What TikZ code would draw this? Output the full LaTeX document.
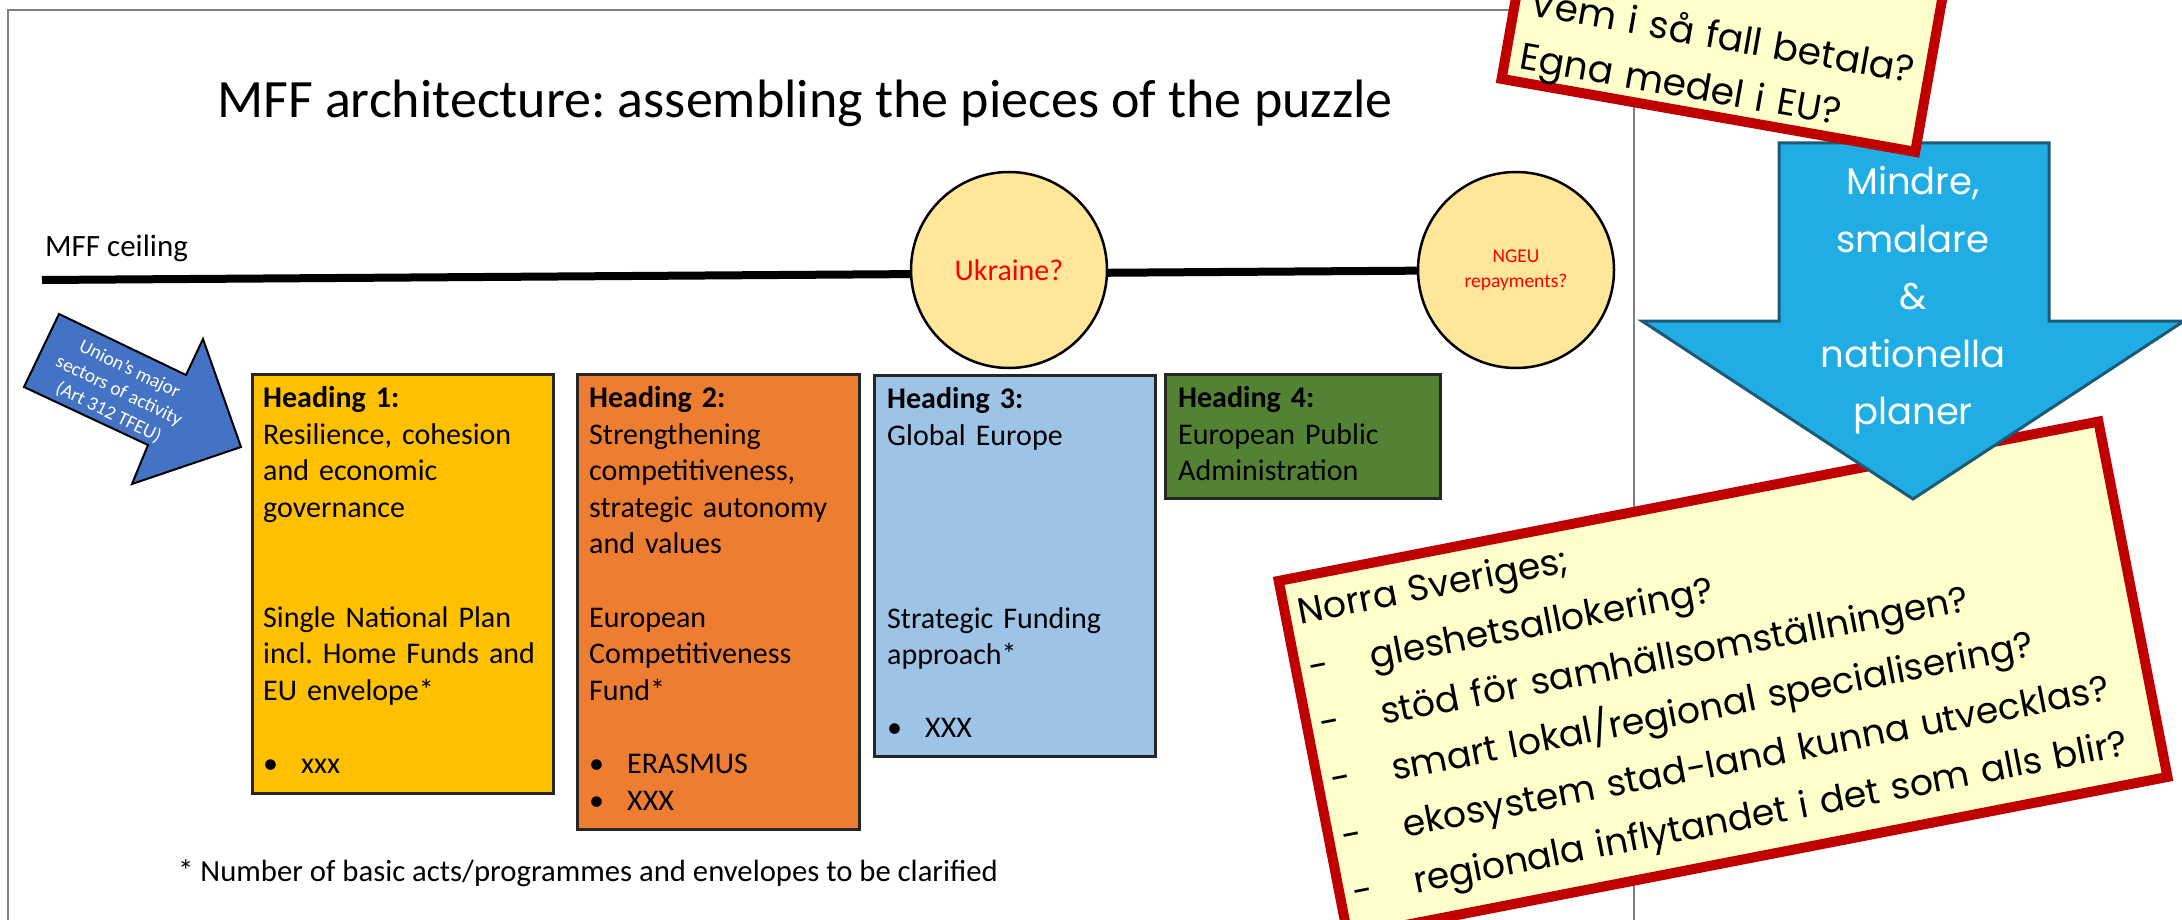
\documentclass[tikz,border=0pt]{standalone}
\usepackage{fontspec}
\setmainfont{Carlito}
\newfontfamily\swfont{Poppins}
\usetikzlibrary{backgrounds}
\definecolor{frameGray}{HTML}{7F7F7F}
\definecolor{hOne}{HTML}{FFC000}
\definecolor{hTwo}{HTML}{ED7D31}
\definecolor{hThree}{HTML}{9DC3E6}
\definecolor{hFour}{HTML}{548235}
\definecolor{moonFill}{HTML}{FFE699}
\definecolor{unionBlue}{HTML}{4472C4}
\definecolor{planBlue}{HTML}{1FADE4}
\definecolor{planEdge}{HTML}{1C5A75}
\definecolor{noteFill}{HTML}{FFFFCC}
\definecolor{noteRed}{HTML}{C00000}
\newcommand{\hbul}{\makebox[38pt][l]{\textbullet}}
\newcommand{\dashitem}{\makebox[62pt][l]{-}}
\frenchspacing

\begin{document}
\begin{tikzpicture}[x=1pt, y=-1pt,
  heading/.style={draw=black!85, line width=2.5pt, anchor=north west, inner sep=0pt},
  htext/.style={anchor=base west, inner sep=0pt, text width=280pt, align=left, font={\fontsize{30}{36.6}\selectfont}},
  puzzle/.style={circle, draw=black, line width=2.5pt, fill=moonFill, minimum size=196pt, inner sep=0pt, text=red, align=center},
  note/.style={draw=noteRed, line width=10pt, fill=noteFill, inner sep=0pt},
  notetext/.style={anchor=base west, inner sep=0pt, text width=950pt, align=left}]
\useasboundingbox (0,0) rectangle (2182,920);
\clip (0,0) rectangle (2182,920);

\draw[frameGray, line width=2pt] (8,930) -- (8,10) -- (1634,10) -- (1634,930);

\node[anchor=base, inner sep=0pt, font={\fontsize{54}{64}\selectfont}] (title) at (805,118) {MFF architecture: assembling the pieces of the puzzle};
\node[anchor=base west, inner sep=0pt, font={\fontsize{31}{38}\selectfont}] (ceilinglabel) at (45,257) {MFF ceiling};

\node[puzzle, font={\fontsize{30}{36}\selectfont}] (ukraine) at (1009,270) {Ukraine?};
\node[puzzle, font={\fontsize{19.5}{25}\selectfont}] (ngeu) at (1516,270) {NGEU\\repayments?};
\coordinate (ceilstart) at (42,280);
\begin{scope}[on background layer]
\fill[white] (0,0) rectangle (2182,920);
\draw[line width=8pt] (ceilstart) -- (ngeu);
\end{scope}

\node[heading, fill=hOne, minimum width=301pt, minimum height=419pt] (h1) at (251,373) {};
\node[htext] (h1t) at ([shift={(12,34.5)}]h1.north west) {\textbf{Heading 1:}\\Resilience, cohesion\\and economic\\governance\\[73.2pt]Single National Plan\\incl. Home Funds and\\EU envelope*\\[36.6pt]\hbul xxx};
\node[heading, fill=hTwo, minimum width=282pt, minimum height=455pt] (h2) at (576,373) {};
\node[htext] (h2t) at ([shift={(13,34.5)}]h2.north west) {\textbf{Heading 2:}\\Strengthening\\competitiveness,\\strategic autonomy\\and values\\[36.6pt]European\\Competitiveness\\Fund*\\[36.6pt]\hbul ERASMUS\\\hbul XXX};
\node[heading, fill=hThree, minimum width=281pt, minimum height=381pt] (h3) at (873,374) {};
\node[htext] (h3t) at ([shift={(14,34.5)}]h3.north west) {\textbf{Heading 3:}\\Global Europe\\[146.4pt]Strategic Funding\\approach*\\[36.6pt]\hbul XXX};
\node[heading, fill=hFour, minimum width=275pt, minimum height=124pt] (h4) at (1164,373) {};
\node[htext] (h4t) at ([shift={(14,34.5)}]h4.north west) {\textbf{Heading 4:}\\European Public\\Administration};

\node[anchor=base west, inner sep=0pt, font={\fontsize{30.7}{36}\selectfont}] (footnote) at (178,881) {* Number of basic acts/programmes and envelopes to be clarified};

\draw[fill=unionBlue, draw=black, line width=2pt] (59,314) -- (186,375) -- (203,339) -- (241,447) -- (132,484) -- (148,445) -- (24,387) -- cycle;
\node[rotate=-26, text=white, align=center, inner sep=0pt, font={\fontsize{19.4}{24}\selectfont}] (union) at (119,391) {Union’s major\\sectors of activity\\(Art 312 TFEU)};

\begin{scope}[shift={(1267,573)}, rotate=11, transform shape]
\node[note, anchor=north west, minimum width=835pt, minimum height=362pt] (norra) at (5,5) {};
\node[notetext, font={\swfont\fontsize{36.3}{57.3}\selectfont}] (norratext) at (23,56.5) {Norra Sveriges;\\\dashitem gleshetsallokering?\\\dashitem stöd för samhällsomställningen?\\\dashitem smart lokal/regional specialisering?\\\dashitem ekosystem stad-land kunna utvecklas?\\\dashitem regionala inflytandet i det som alls blir?};
\end{scope}

\draw[fill=planBlue, draw=planEdge, line width=3pt] (1779,143) -- (2049,143) -- (2049,321) -- (2184,321) -- (1913,499) -- (1642,321) -- (1779,321) -- cycle;
\node[anchor=base, text=white, text width=300pt, align=center, inner sep=0pt, font={\swfont\fontsize{37}{57.5}\selectfont}] (plans) at (1913,195) {Mindre,\\smalare\\\&\\nationella\\planer};

\begin{scope}[shift={(1490,87)}, rotate=-10, transform shape]
\node[note, anchor=south west, minimum width=420pt, minimum height=400pt] (vem) at (5,-5) {};
\node[notetext, font={\swfont\fontsize{37.5}{54}\selectfont}] (vemtext) at (25,-77) {Vem i så fall betala?\\Egna medel i EU?};
\end{scope}
\end{tikzpicture}
\end{document}
